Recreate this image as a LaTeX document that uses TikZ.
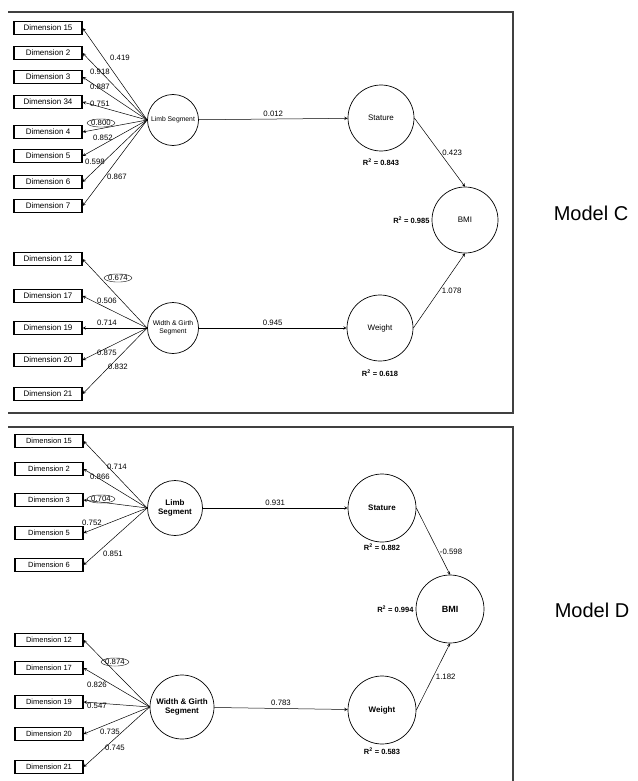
\documentclass[tikz,border=0pt]{standalone}
\usepackage{fontspec}
\setmainfont{Liberation Sans}
\usetikzlibrary{positioning,shapes.geometric}

\begin{document}
\begin{tikzpicture}[x=1pt, y=-1pt, >=stealth,
    dimbox/.style={draw, rectangle, line width=1.1pt, minimum width=68pt, minimum height=13.5pt, inner sep=1pt, font=\fontsize{8}{9}\selectfont},
    latent/.style={draw, circle, line width=0.7pt, inner sep=1pt, align=center, font=\fontsize{8}{9}\selectfont},
    smallcirc/.style={latent, minimum size=51pt, font=\fontsize{6.8}{8}\selectfont},
    bigcirc/.style={latent, minimum size=66pt},
    boldlab/.style={font=\bfseries\fontsize{8}{9}\selectfont},
    load/.style={inner sep=0.5pt, font=\fontsize{7.8}{8}\selectfont},
    circled/.style={load, draw, ellipse, line width=0.4pt, inner sep=0.1pt},
    rsq/.style={inner sep=1pt, font=\bfseries\fontsize{7.5}{8}\selectfont},
    link/.style={->, line width=0.5pt},
    frame/.style={draw=black!75, line width=1.1pt}]
    \useasboundingbox (0,0) rectangle (637,781);

    % frames
    \draw[frame] (8,12) -- (513,12) -- (513,413) -- (8,413);
    \draw[frame] (8,427) -- (513,427) -- (513,781);

    % ---------- Model C ----------
    \node (dimC15) [dimbox] at (48,28) {Dimension 15};
    \node (dimC2) [dimbox] at (48,53) {Dimension 2};
    \node (dimC3) [dimbox] at (48,77) {Dimension 3};
    \node (dimC34) [dimbox] at (48,102) {Dimension 34};
    \node (dimC4) [dimbox] at (48,132) {Dimension 4};
    \node (dimC5) [dimbox] at (48,156) {Dimension 5};
    \node (dimC6) [dimbox] at (48,182) {Dimension 6};
    \node (dimC7) [dimbox] at (48,206) {Dimension 7};
    \node (dimC12) [dimbox] at (48,259) {Dimension 12};
    \node (dimC17) [dimbox] at (48,296) {Dimension 17};
    \node (dimC19) [dimbox] at (48,328) {Dimension 19};
    \node (dimC20) [dimbox] at (48,360) {Dimension 20};
    \node (dimC21) [dimbox] at (48,394) {Dimension 21};

    \node (limbC) [smallcirc] at (173,120) {Limb Segment};
    \node (girthC) [smallcirc] at (173,328) {Width \& Girth\\Segment};
    \node (statC) [bigcirc] at (381,118) {Stature};
    \node (weightC) [bigcirc] at (380,328) {Weight};
    \node (bmiC) [bigcirc] at (465,220) {BMI};

    \draw[link] (limbC.west) -- (dimC15.east);
    \draw[link] (limbC.west) -- (dimC2.east);
    \draw[link] (limbC.west) -- (dimC3.east);
    \draw[link] (limbC.west) -- (dimC34.east);
    \draw[link] (limbC.west) -- (dimC4.east);
    \draw[link] (limbC.west) -- (dimC5.east);
    \draw[link] (limbC.west) -- (dimC6.east);
    \draw[link] (limbC.west) -- (dimC7.east);
    \draw[link] (girthC.west) -- (dimC12.east);
    \draw[link] (girthC.west) -- (dimC17.east);
    \draw[link] (girthC.west) -- (dimC19.east);
    \draw[link] (girthC.west) -- (dimC20.east);
    \draw[link] (girthC.west) -- (dimC21.east);

    \node (ldC15) [load] at (120,58) {0.419};
    \node (ldC2) [load] at (100,72) {0.918};
    \node (ldC3) [load] at (100,87) {0.887};
    \node (ldC34) [load] at (100,104) {0.751};
    \node (ldC4) [circled] at (101,123) {0.800};
    \node (ldC5) [load] at (103,138) {0.852};
    \node (ldC6) [load] at (95,162) {0.598};
    \node (ldC7) [load] at (117,177) {0.867};
    \node (ldC12) [circled] at (118,278) {0.674};
    \node (ldC17) [load] at (107,301) {0.506};
    \node (ldC19) [load] at (107,323) {0.714};
    \node (ldC20) [load] at (107,353) {0.875};
    \node (ldC21) [load] at (118,367) {0.832};

    \draw[link] (limbC) -- node[load, above=2pt] (pStatC) {0.012} (statC);
    \draw[link] (girthC) -- node[load, above=2pt] (pWeightC) {0.945} (weightC);
    \draw[link] (statC.east) -- node[load, right=2pt] (pBmiStatC) {0.423} (bmiC.north);
    \draw[link] (weightC.east) -- node[load, right=2pt] (pBmiWeightC) {1.078} (bmiC.south);

    \node (rsqStatC) [rsq, below=6pt of statC] {R\textsuperscript{2} = 0.843};
    \node (rsqWeightC) [rsq, below=7pt of weightC] {R\textsuperscript{2} = 0.618};
    \node (rsqBmiC) [rsq, left=1pt of bmiC] {R\textsuperscript{2} = 0.985};

    \node (modelC) at (591,213) {\fontsize{20}{24}\selectfont Model C};

    % ---------- Model D ----------
    \node (dimD15) [dimbox, font=\fontsize{7.5}{9}\selectfont] at (49,441) {Dimension 15};
    \node (dimD2) [dimbox, font=\fontsize{7.5}{9}\selectfont] at (49,469) {Dimension 2};
    \node (dimD3) [dimbox, font=\fontsize{7.5}{9}\selectfont] at (49,500) {Dimension 3};
    \node (dimD5) [dimbox, font=\fontsize{7.5}{9}\selectfont] at (49,533) {Dimension 5};
    \node (dimD6) [dimbox, font=\fontsize{7.5}{9}\selectfont] at (49,565) {Dimension 6};
    \node (dimD12) [dimbox, font=\fontsize{7.5}{9}\selectfont] at (49,640) {Dimension 12};
    \node (dimD17) [dimbox, font=\fontsize{7.5}{9}\selectfont] at (49,668) {Dimension 17};
    \node (dimD19) [dimbox, font=\fontsize{7.5}{9}\selectfont] at (49,702) {Dimension 19};
    \node (dimD20) [dimbox, font=\fontsize{7.5}{9}\selectfont] at (49,734) {Dimension 20};
    \node (dimD21) [dimbox, font=\fontsize{7.5}{9}\selectfont] at (49,767) {Dimension 21};

    \node (limbD) [smallcirc, minimum size=55pt, boldlab] at (175,508) {Limb\\Segment};
    \node (girthD) [smallcirc, minimum size=64pt, boldlab] at (182,707) {Width \& Girth\\Segment};
    \node (statD) [bigcirc, minimum size=68pt, boldlab] at (382,508) {Stature};
    \node (weightD) [bigcirc, minimum size=68pt, boldlab] at (382,710) {Weight};
    \node (bmiD) [bigcirc, minimum size=68pt, font=\bfseries\fontsize{9}{10}\selectfont] at (450,609) {BMI};

    \draw[link] (limbD.west) -- (dimD15.east);
    \draw[link] (limbD.west) -- (dimD2.east);
    \draw[link] (limbD.west) -- (dimD3.east);
    \draw[link] (limbD.west) -- (dimD5.east);
    \draw[link] (limbD.west) -- (dimD6.east);
    \draw[link] (girthD.west) -- (dimD12.east);
    \draw[link] (girthD.west) -- (dimD17.east);
    \draw[link] (girthD.west) -- (dimD19.east);
    \draw[link] (girthD.west) -- (dimD20.east);
    \draw[link] (girthD.west) -- (dimD21.east);

    \node (ldD15) [load] at (117,467) {0.714};
    \node (ldD2) [load] at (100,477) {0.866};
    \node (ldD3) [circled] at (101,499) {0.704};
    \node (ldD5) [load] at (92,523) {0.752};
    \node (ldD6) [load] at (113,554) {0.851};
    \node (ldD12) [circled] at (115,662) {0.874};
    \node (ldD17) [load] at (97,685) {0.826};
    \node (ldD19) [load] at (97,706) {0.547};
    \node (ldD20) [load] at (110,732) {0.735};
    \node (ldD21) [load] at (115,748) {0.745};

    \draw[link] (limbD) -- node[load, above=2pt] (pStatD) {0.931} (statD);
    \draw[link] (girthD) -- node[load, above=2pt] (pWeightD) {0.783} (weightD);
    \draw[link] (statD.east) -- node[load, right=1pt, pos=.65] (pBmiStatD) {-0.598} (bmiD.north);
    \draw[link] (weightD.east) -- node[load, right=2pt] (pBmiWeightD) {1.182} (bmiD.south);

    \node (rsqStatD) [rsq, below=0pt of statD] {R\textsuperscript{2} = 0.882};
    \node (rsqWeightD) [rsq, below=2pt of weightD] {R\textsuperscript{2} = 0.583};
    \node (rsqBmiD) [rsq, left=1pt of bmiD] {R\textsuperscript{2} = 0.994};

    \node (modelD) at (592,610) {\fontsize{20}{24}\selectfont Model D};
\end{tikzpicture}
\end{document}
